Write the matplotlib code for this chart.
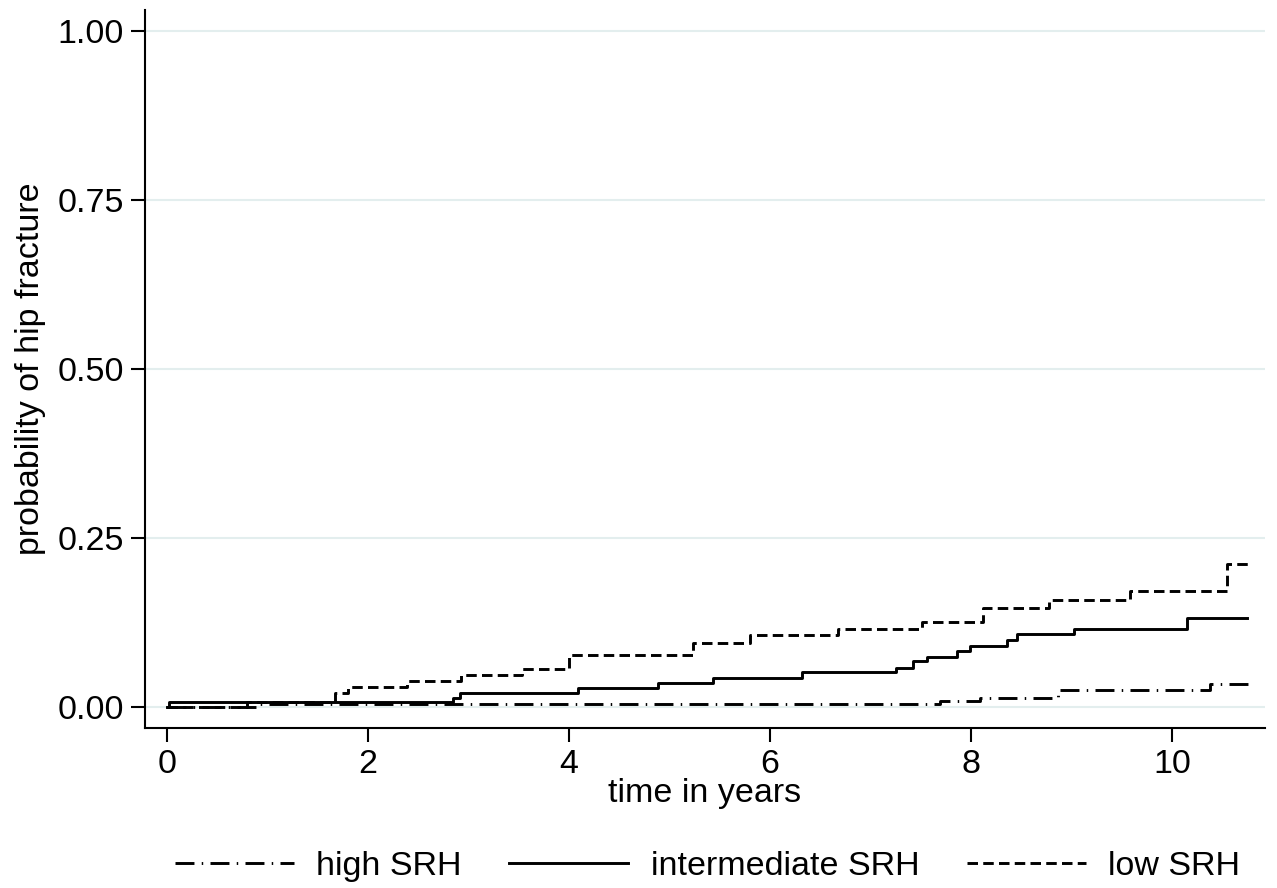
import numpy as np
import matplotlib
matplotlib.use("Agg")
import matplotlib.pyplot as plt

plt.rcParams['font.family'] = ['Liberation Sans', 'DejaVu Sans']

# cumulative failure curves (time in years, probability)
high_t = [0, 0.9, 7.69, 8.09, 8.87, 10.38, 10.76]
high_p = [0, 0.004, 0.009, 0.013, 0.025, 0.034, 0.034]

mid_t = [0, 0.02, 2.85, 2.92, 4.09, 4.89, 5.43, 6.32, 7.25, 7.42, 7.56,
         7.86, 7.99, 8.36, 8.46, 9.03, 10.15, 10.75]
mid_p = [0, 0.007, 0.013, 0.021, 0.028, 0.036, 0.043, 0.052, 0.058, 0.068, 0.074,
         0.083, 0.090, 0.099, 0.108, 0.115, 0.131, 0.131]

low_t = [0, 0.8, 1.67, 1.8, 2.39, 2.93, 3.53, 4.0, 5.23, 5.8, 6.68,
         7.51, 8.12, 8.78, 9.58, 10.55, 10.76]
low_p = [0, 0.007, 0.021, 0.030, 0.038, 0.047, 0.056, 0.077, 0.095, 0.106, 0.116,
         0.126, 0.147, 0.159, 0.172, 0.211, 0.211]

labels = ["high SRH", "intermediate SRH", "low SRH"]
yticks = [0, 0.25, 0.5, 0.75, 1.0]
xticks = [0, 2, 4, 6, 8, 10]

fs = 24.5

fig = plt.figure(figsize=(12.77, 8.88), dpi=100)
ax = fig.add_axes([0.1135, 0.1802, 0.877, 0.8085])

# light horizontal grid
for y in yticks:
    ax.axhline(y, color='#e3eeee', lw=1.5, zorder=0)

lw = 2.1
ax.step(high_t, high_p, where='post', color='black', lw=lw,
        dashes=(6.5, 2.5, 0.5, 2.5), label=labels[0])
ax.step(mid_t, mid_p, where='post', color='black', lw=lw, label=labels[1])
ax.step(low_t, low_p, where='post', color='black', lw=lw,
        dashes=(3.6, 1.8), label=labels[2])

ax.set_xlim(-0.219, 10.925)
ax.set_ylim(-0.031, 1.031)
ax.set_xticks(xticks)
ax.set_yticks(yticks)
ax.set_yticklabels(["%.2f" % v for v in yticks])
ax.tick_params(labelsize=fs, length=10, width=1.5, direction='out', pad=5)

ax.spines['top'].set_visible(False)
ax.spines['right'].set_visible(False)
ax.spines['left'].set_linewidth(1.5)
ax.spines['bottom'].set_linewidth(1.5)

ax.set_xlabel("time in years", fontsize=fs, labelpad=-1)
ax.set_ylabel("probability of hip fracture", fontsize=fs, labelpad=8)

fig.legend(loc='center', bbox_to_anchor=(0.554, 0.024), ncol=3, frameon=False,
           fontsize=fs, handlelength=3.5, handletextpad=0.65, columnspacing=1.4)

fig.savefig("out.png", dpi=100)
